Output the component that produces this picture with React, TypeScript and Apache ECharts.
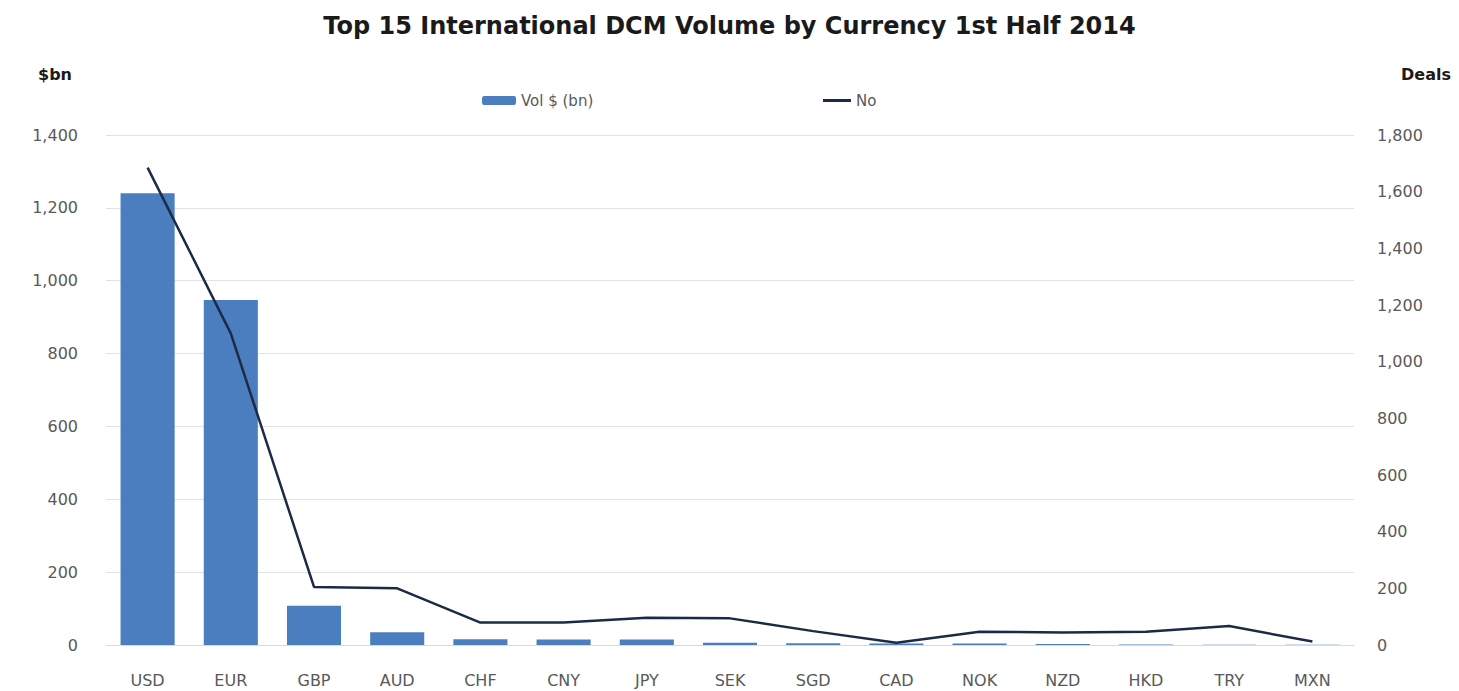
import React, { useEffect, useRef } from "react";
import * as echarts from "echarts";

const categories = ["USD", "EUR", "GBP", "AUD", "CHF", "CNY", "JPY", "SEK", "SGD", "CAD", "NOK", "NZD", "HKD", "TRY", "MXN"];
const volume = [1240, 947, 108, 35, 16, 15, 15, 6, 5, 4, 4, 3, 1.5, 1, 1];
const deals = [1685, 1100, 205, 200, 79, 79, 96, 94, 49, 8, 47, 44, 47, 67, 12];
const leftTicks = { min: 0, max: 1400, interval: 200 };
const rightTicks = { min: 0, max: 1800, interval: 200 };

const FONT = "DejaVu Sans";
const GREY = "#595959";

export default function App() {
  const ref = useRef<HTMLDivElement>(null);
  useEffect(() => {
    document.body.style.margin = "0";
    if (!ref.current) return;
    const chart = echarts.init(ref.current, null, { renderer: "svg" });
    chart.setOption({
      animation: false,
      backgroundColor: "#ffffff",
      textStyle: { fontFamily: FONT },
      title: {
        text: "Top 15 International DCM Volume by Currency 1st Half 2014",
        left: "center",
        top: 9,
        textStyle: { fontFamily: FONT, fontSize: 24, fontWeight: "bold", color: "#1a1a1a" },
      },
      graphic: [
        { type: "text", left: 38, top: 66, style: { text: "$bn", font: `bold 16px ${FONT}`, fill: "#1a1a1a" } },
        { type: "text", right: 8, top: 66, style: { text: "Deals", font: `bold 16px ${FONT}`, fill: "#1a1a1a" } },
      ],
      legend: [
        {
          data: ["Vol $ (bn)"],
          left: 477,
          top: 88,
          itemWidth: 34,
          itemHeight: 9,
          textStyle: { fontFamily: FONT, fontSize: 15, color: GREY },
        },
        {
          data: [{ name: "No", icon: "rect" }],
          left: 818,
          top: 88,
          itemWidth: 28,
          itemHeight: 3,
          textStyle: { fontFamily: FONT, fontSize: 15, color: GREY },
        },
      ],
      grid: { left: 106, right: 105, top: 135, bottom: 46, containLabel: false },
      xAxis: {
        type: "category",
        data: categories,
        axisTick: { show: false },
        axisLine: { lineStyle: { color: "#d9d9d9" } },
        axisLabel: { fontFamily: FONT, fontSize: 16, color: GREY, margin: 27 },
      },
      yAxis: [
        {
          type: "value",
          ...leftTicks,
          axisLabel: {
            fontFamily: FONT,
            fontSize: 16,
            color: GREY,
            margin: 28,
            formatter: (v: number) => v.toLocaleString("en-US"),
          },
          splitLine: { lineStyle: { color: "#e3e3e3" } },
          axisLine: { show: false },
          axisTick: { show: false },
        },
        {
          type: "value",
          ...rightTicks,
          position: "right",
          axisLabel: {
            fontFamily: FONT,
            fontSize: 16,
            color: GREY,
            margin: 23,
            formatter: (v: number) => v.toLocaleString("en-US"),
          },
          splitLine: { show: false },
          axisLine: { show: false },
          axisTick: { show: false },
        },
      ],
      series: [
        {
          name: "Vol $ (bn)",
          type: "bar",
          data: volume,
          yAxisIndex: 0,
          barCategoryGap: "35%",
          itemStyle: { color: "#4a7ebf" },
        },
        {
          name: "No",
          type: "line",
          data: deals,
          yAxisIndex: 1,
          symbol: "none",
          lineStyle: { color: "#1c2b45", width: 2.5 },
          itemStyle: { color: "#1c2b45" },
        },
      ],
    });
    return () => chart.dispose();
  }, []);
  return <div ref={ref} style={{ width: 1459, height: 691 }} />;
}
